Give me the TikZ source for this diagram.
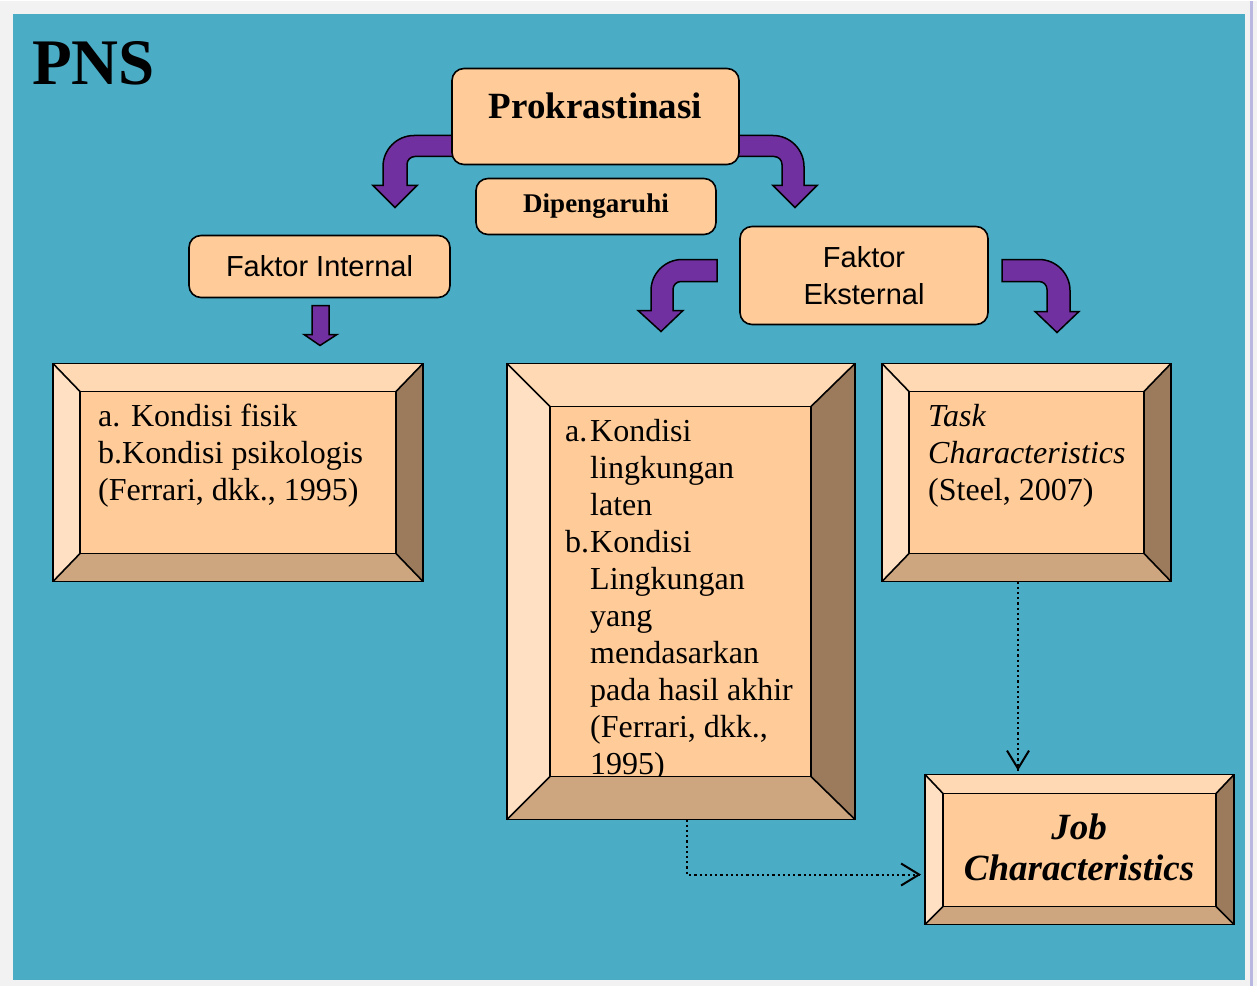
\documentclass[tikz,border=0pt]{standalone}
\usepackage{fontspec}
\setmainfont{Liberation Serif}
\setsansfont{Liberation Sans}
\usetikzlibrary{arrows.meta,calc}
\definecolor{sky}{HTML}{4BACC6}
\definecolor{peach}{HTML}{FFCC99}
\definecolor{bvtop}{HTML}{FFD9B3}
\definecolor{bvleft}{HTML}{FFE0C2}
\definecolor{bvright}{HTML}{9C7B5C}
\definecolor{bvbot}{HTML}{CDA57E}
\definecolor{violet}{HTML}{7030A0}
\newcommand\itm[1]{\makebox[25pt][l]{#1}}
\newcommand\bevelframe[2]{%
\fill[bvtop] (#1.north west) -- (#1.north east) -- (#2.north east) -- (#2.north west) -- cycle;
\fill[bvleft] (#1.north west) -- (#2.north west) -- (#2.south west) -- (#1.south west) -- cycle;
\fill[bvright] (#1.north east) -- (#1.south east) -- (#2.south east) -- (#2.north east) -- cycle;
\fill[bvbot] (#1.south west) -- (#2.south west) -- (#2.south east) -- (#1.south east) -- cycle;
\draw[edge] (#1.north west) -- (#2.north west) (#1.north east) -- (#2.north east) (#1.south west) -- (#2.south west) (#1.south east) -- (#2.south east);
\draw[edge] (#1.north west) rectangle (#1.south east) (#2.north west) rectangle (#2.south east);}
\tikzset{edge/.style={draw=black,line width=1.6pt,line join=miter},
rbox/.style={draw=black,line width=1.6pt,fill=peach,rounded corners=12pt,inner sep=0pt,outer sep=0pt},
frame/.style={inner sep=0pt,outer sep=0pt},
face/.style={inner sep=0pt,outer sep=0pt,fill=peach},
bent/.style={fill=violet,draw=black,line width=1.5pt,line join=miter},
body/.style={inner sep=0pt,anchor=north west,align=left,font=\fontsize{32}{37}\selectfont},
link/.style={line width=2pt,dash pattern=on 2.2pt off 3pt},
tip/.style={line width=2pt,solid,-{Straight Barb[length=18pt,width=22pt]}}}
\begin{document}
\begin{tikzpicture}[x=1pt,y=-1pt]
\fill[black!5] (0,0) rectangle (1257,984);\fill[sky] (13,13) rectangle (1245,978);
\draw[line width=3pt,color=gray!60!blue!40] (1251,0)--(1251,984);
\node[anchor=west,inner sep=0pt,font=\fontsize{65}{65}\selectfont\bfseries] (pns) at (32,62){PNS};
\draw[bent] (460,134) -- (414,134) .. controls (397,134) and (383,148) .. (383,165) -- (383,184) -- (373,184) -- (395,206) -- (417,184) -- (407,184) -- (407,163) .. controls (407,158.5) and (410.5,155) .. (415,155) -- (460,155) -- cycle;
\draw[bent] (730,134) -- (773,134) .. controls (790,134) and (804,148) .. (804,165) -- (804,184) -- (817,184) -- (795,206) -- (773,184) -- (782,184) -- (782,163) .. controls (782,158.5) and (778.5,155) .. (774,155) -- (730,155) -- cycle;
\draw[bent] (717,258) -- (682,258) .. controls (665,258) and (651,272) .. (651,289) -- (651,309) -- (638,309) -- (661,330) -- (683,309) -- (673,309) -- (673,288) .. controls (673,283.5) and (676.5,280) .. (681,280) -- (717,280) -- cycle;
\draw[bent] (1002,258) -- (1039,258) .. controls (1056,258) and (1070,272) .. (1070,289) -- (1070,310) -- (1079,310) -- (1057,331) -- (1035,310) -- (1047,310) -- (1047,288) .. controls (1047,283.5) and (1043.5,280) .. (1039,280) -- (1002,280) -- cycle;
\draw[bent] (312,304) -- (329,304) -- (329,333) -- (337,333) -- (320,344) -- (304,333) -- (312,333) -- cycle;
\node[rbox,minimum width=287pt,minimum height=96pt] (prok) at (595.5,115){};
\node[font=\fontsize{37}{37}\selectfont\bfseries] (prokt) at (595.5,104){Prokrastinasi};
\node[rbox,minimum width=240pt,minimum height=56pt,font=\fontsize{27}{27}\selectfont\bfseries] (dip) at (596,205){Dipengaruhi};
\node[rbox,minimum width=261pt,minimum height=62pt,font=\sffamily\fontsize{29}{29}\selectfont] (fint) at (319.5,265){Faktor Internal};
\node[rbox,minimum width=248pt,minimum height=98pt,align=center,font=\sffamily\fontsize{29}{37}\selectfont] (feks) at (864,274){Faktor\\Eksternal};
\node[frame,minimum width=370pt,minimum height=218pt] (intbox) at (238,471){};
\node[face,minimum width=316pt,minimum height=162pt] (intface) at (238,471){};
\bevelframe{intbox}{intface}
\node[frame,minimum width=348pt,minimum height=456pt] (midbox) at (681,590){};
\node[face,minimum width=261pt,minimum height=370pt] (midface) at (680.5,590){};
\bevelframe{midbox}{midface}
\node[frame,minimum width=289pt,minimum height=218pt] (taskbox) at (1026.5,471){};
\node[face,minimum width=235pt,minimum height=162pt] (taskface) at (1026.5,471){};
\bevelframe{taskbox}{taskface}
\node[frame,minimum width=309pt,minimum height=150pt] (jobbox) at (1079.5,848){};
\node[face,minimum width=273pt,minimum height=113pt] (jobface) at (1079.5,848.5){};
\bevelframe{jobbox}{jobface}
\node[body] (inttxt) at (98,402){a. Kondisi fisik\\b.Kondisi psikologis\\(Ferrari, dkk., 1995)};
\begin{scope}
\clip (midface.north west) rectangle (midface.south east);
\node[body] (midtxt) at (565,418){\itm{a.}Kondisi\\\itm{}lingkungan\\\itm{}laten\\\itm{b.}Kondisi\\\itm{}Lingkungan\\\itm{}yang\\\itm{}mendasarkan\\\itm{}pada hasil akhir\\\itm{}(Ferrari, dkk.,\\\itm{}1995)};
\end{scope}
\draw[edge] (midface.north west) rectangle (midface.south east);
\node[body] (tasktxt) at (928,403){\textit{Task}\\\textit{Characteristics}\\(Steel, 2007)};
\node[align=center,inner sep=0pt,font=\fontsize{37}{41}\selectfont\bfseries\itshape] (jobtxt) at (1079,846){Job\\Characteristics};
\coordinate (taskend) at ([xshift=-8.5pt,yshift=4pt]taskbox.south |- jobbox.north);
\coordinate (midend) at ([xshift=-4pt,yshift=-25pt]jobbox.west);
\draw[link] ([xshift=-8.5pt]taskbox.south) -- (taskend);
\draw[link] ([xshift=6pt]midbox.south) |- (midend);
\draw[tip] ([yshift=2pt]taskend) -- (taskend);
\draw[tip] ([xshift=-2pt]midend) -- (midend);
\end{tikzpicture}
\end{document}
